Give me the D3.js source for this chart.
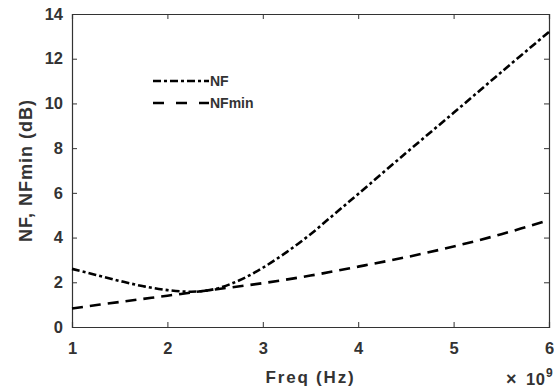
<!DOCTYPE html>
<html>
<head>
<meta charset="utf-8">
<script src="https://cdn.jsdelivr.net/npm/d3@7"></script>
<style>
  body { margin: 0; background: #fff; }
  text { font-family: "Liberation Sans", Arial, sans-serif; font-weight: bold; fill: #333; }
</style>
</head>
<body>
<svg id="chart" width="554" height="388"></svg>
<script>
// frequency in units of 1e9 Hz
const freq_nf = [1.0, 1.25, 1.5, 1.75, 2.0, 2.25, 2.5, 2.75, 3.0, 3.25, 3.5, 3.75, 4.0, 4.5, 5.0, 5.5, 6.0];
const nf      = [2.6, 2.33, 2.06, 1.82, 1.65, 1.58, 1.7, 2.08, 2.65, 3.35, 4.15, 5.05, 5.95, 7.78, 9.58, 11.4, 13.2];
const freq_nfmin = [1.0, 1.5, 2.0, 2.5, 3.0, 3.5, 4.0, 4.5, 5.0, 5.5, 6.0];
const nfmin      = [0.83, 1.12, 1.4, 1.68, 1.96, 2.3, 2.7, 3.12, 3.6, 4.15, 4.78];
const x_ticks = [1, 2, 3, 4, 5, 6];
const y_ticks = [0, 2, 4, 6, 8, 10, 12, 14];

const svg = d3.select('#chart');
const margin = {left: 72, right: 5, top: 14, bottom: 61};
const width = 554, height = 388;

const x = d3.scaleLinear().domain([1, 6]).range([margin.left, width - margin.right]);
const y = d3.scaleLinear().domain([0, 14]).range([height - margin.bottom, margin.top]);

const axis_color = '#333';

// axes with inward ticks, box on
const x_axis = svg.append('g')
    .attr('transform', 'translate(0,' + y(0) + ')')
    .call(d3.axisBottom(x).tickValues(x_ticks).tickSize(-5).tickPadding(15).tickFormat(d3.format('d')));
const x_top = svg.append('g')
    .attr('transform', 'translate(0,' + y(14) + ')')
    .call(d3.axisTop(x).tickValues(x_ticks).tickSize(-5).tickFormat(''));
const y_axis = svg.append('g')
    .attr('transform', 'translate(' + x(1) + ',0)')
    .call(d3.axisLeft(y).tickValues(y_ticks).tickSize(-5).tickPadding(9).tickFormat(d3.format('d')));
const y_right = svg.append('g')
    .attr('transform', 'translate(' + x(6) + ',0)')
    .call(d3.axisRight(y).tickValues(y_ticks).tickSize(-5).tickFormat(''));

[x_axis, x_top, y_axis, y_right].forEach(g => {
    g.select('.domain').attr('stroke', axis_color).attr('stroke-width', 1.2);
    g.selectAll('.tick line').attr('stroke', axis_color);
    g.selectAll('.tick text')
        .attr('font-size', '16.5px')
        .attr('font-family', '"Liberation Sans", Arial, sans-serif')
        .attr('font-weight', 'bold')
        .attr('fill', axis_color);
});

const line = d3.line().x(d => x(d[0])).y(d => y(d[1])).curve(d3.curveCatmullRom);

svg.append('path')
    .datum(d3.zip(freq_nf, nf))
    .attr('fill', 'none')
    .attr('stroke', '#000')
    .attr('stroke-width', 2.6)
    .attr('stroke-dasharray', '8,3,3,3')
    .attr('d', line);

svg.append('path')
    .datum(d3.zip(freq_nfmin, nfmin))
    .attr('fill', 'none')
    .attr('stroke', '#000')
    .attr('stroke-width', 2.6)
    .attr('stroke-dasharray', '11,7')
    .attr('d', line);

// legend
const legend = svg.append('g').attr('transform', 'translate(153,81)');
legend.append('line').attr('x1', 0).attr('x2', 56).attr('y1', 0).attr('y2', 0)
    .attr('stroke', '#000').attr('stroke-width', 2.6).attr('stroke-dasharray', '8,3,3,3');
legend.append('text').attr('x', 57).attr('y', 5).attr('font-size', '14px').text('NF');
legend.append('line').attr('x1', 0).attr('x2', 56).attr('y1', 22).attr('y2', 22)
    .attr('stroke', '#000').attr('stroke-width', 2.6).attr('stroke-dasharray', '11,12');
legend.append('text').attr('x', 57).attr('y', 27).attr('font-size', '14px').text('NFmin');

// axis labels
svg.append('text')
    .attr('x', (x(1) + x(6)) / 2)
    .attr('y', 383)
    .attr('text-anchor', 'middle')
    .attr('font-size', '17px')
    .attr('letter-spacing', '1.8px')
    .text('Freq (Hz)');

svg.append('text')
    .attr('transform', 'translate(32,' + ((y(0) + y(14)) / 2) + ') rotate(-90)')
    .attr('text-anchor', 'middle')
    .attr('font-size', '18px')
    .attr('letter-spacing', '1px')
    .text('NF, NFmin (dB)');

// exponent label
svg.append('text').attr('x', 506).attr('y', 385)
    .attr('font-size', '18px').attr('font-weight', 'normal').text('\u00d7');
svg.append('text').attr('x', 526).attr('y', 385)
    .attr('font-size', '16.5px').attr('letter-spacing', '0.5px').text('10');
svg.append('text').attr('x', 546).attr('y', 377)
    .attr('font-size', '12px').text('9');
</script>
</body>
</html>
